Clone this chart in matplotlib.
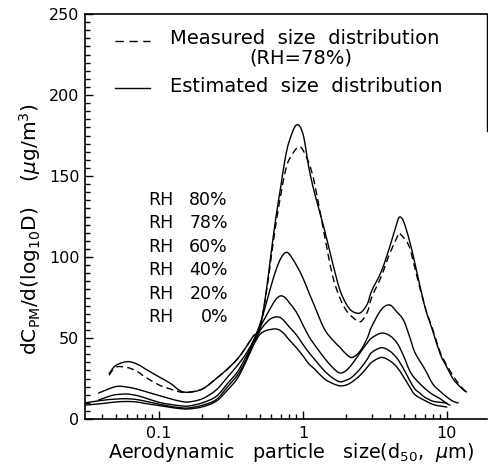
import numpy as np
import matplotlib
matplotlib.use("Agg")
import matplotlib.pyplot as plt
from matplotlib.ticker import FixedLocator, NullFormatter, MultipleLocator
from matplotlib.path import Path
from matplotlib.patches import PathPatch

# ---------------- data ----------------
x_rh80 = [0.045, 0.05, 0.06, 0.07, 0.08, 0.1, 0.12, 0.14, 0.16, 0.2, 0.25, 0.3, 0.35, 0.4, 0.45,
          0.5, 0.55, 0.6, 0.65, 0.7, 0.75, 0.8, 0.9, 1.0, 1.1, 1.2, 1.4, 1.6, 1.8, 2.0, 2.2, 2.5,
          2.8, 3.0, 3.5, 4.0, 4.5, 4.7, 5.0, 5.5, 6, 7, 8, 9, 10, 11, 12, 13, 13.7]
y_rh80 = [28, 33, 35.4, 34, 31, 26, 22, 17.5, 16.5, 18.5, 25, 31, 37, 44, 51,
          55, 76, 102, 125, 143, 160, 171, 181.5, 176, 155, 140, 118, 97, 80, 71, 66.5, 65.5,
          71, 79, 91, 106, 121, 124.7, 122, 110, 96, 70, 54, 40, 32, 25, 21, 18, 16.7]

x_meas = [0.045, 0.05, 0.06, 0.07, 0.08, 0.1, 0.12, 0.14, 0.16, 0.2, 0.25, 0.3, 0.35, 0.4, 0.45,
          0.5, 0.55, 0.6, 0.65, 0.7, 0.75, 0.8, 0.9, 0.95, 1.0, 1.1, 1.2, 1.4, 1.6, 1.8, 2.0, 2.2,
          2.5, 2.8, 3.0, 3.5, 4.0, 4.5, 4.6, 5.0, 5.5, 6, 7, 8, 9, 10, 11, 12, 13, 13.8]
y_meas = [27, 32, 31.8, 29.5, 26, 21, 18.5, 16.7, 16.5, 18.5, 25, 31, 37, 44, 51,
          56, 75, 99, 121, 138, 152, 160, 167, 168, 166, 158, 146, 115, 89, 75, 67, 63,
          60, 66, 75, 88, 102, 112, 114.8, 112, 106, 93, 70, 55, 41, 33, 27, 22, 18.5, 16]

x_rh60 = [0.038, 0.05, 0.06, 0.07, 0.08, 0.1, 0.12, 0.14, 0.16, 0.2, 0.25, 0.3, 0.35, 0.4, 0.45,
          0.5, 0.55, 0.6, 0.65, 0.7, 0.75, 0.8, 0.9, 1.0, 1.1, 1.2, 1.4, 1.6, 1.8, 2.0, 2.2, 2.5,
          2.8, 3.0, 3.5, 4.0, 4.5, 5.0, 5.5, 6, 7, 8, 9, 10, 11, 12]
y_rh60 = [16, 20, 19.7, 18.5, 17, 14.5, 12.5, 11, 10.5, 12.5, 18, 26, 33, 40, 48,
          58, 70, 82, 92, 99, 102.5, 102, 95, 87, 78, 70, 56, 49, 44.4, 40, 38, 42,
          50, 57, 67.5, 70.4, 66, 61, 51, 41, 31, 21.5, 17, 13.6, 11, 9.9]

x_rh40 = [0.038, 0.045, 0.05, 0.06, 0.07, 0.08, 0.1, 0.12, 0.14, 0.16, 0.2, 0.25, 0.3, 0.35, 0.4,
          0.45, 0.5, 0.55, 0.6, 0.65, 0.7, 0.75, 0.8, 0.9, 1.0, 1.1, 1.2, 1.4, 1.6, 1.8, 2.0, 2.2,
          2.5, 2.8, 3.0, 3.5, 4.0, 4.5, 5.0, 5.5, 6, 7, 8, 9, 10, 10.5]
y_rh40 = [11.7, 14, 15, 15.4, 14.5, 13, 10.3, 9, 8.2, 8, 10, 14, 22, 29, 38,
          47, 56, 63, 69, 74, 76, 75, 72, 66, 58, 51, 46, 38, 32, 28.4, 30, 34,
          41, 47, 50, 53, 51.5, 47, 39, 30, 25, 19, 15, 12.5, 9.5, 8.6]

x_rh20 = [0.031, 0.04, 0.05, 0.06, 0.07, 0.08, 0.1, 0.12, 0.14, 0.16, 0.2, 0.25, 0.3, 0.35, 0.4,
          0.45, 0.5, 0.55, 0.6, 0.65, 0.7, 0.75, 0.8, 0.9, 1.0, 1.1, 1.2, 1.4, 1.6, 1.8, 2.0, 2.2,
          2.5, 2.8, 3.0, 3.5, 4.0, 4.5, 5.0, 5.5, 6, 6.5, 7, 8, 9, 10]
y_rh20 = [10, 11.5, 12.3, 12.5, 12, 11, 9.2, 7.8, 7, 6.8, 8.5, 12, 20, 27, 36,
          46, 54, 59, 62, 63, 62.5, 60, 57, 52, 46, 41, 37, 30, 25.5, 23, 24, 26,
          31, 37, 41, 44, 42, 37.5, 31, 24, 18.5, 16, 13.5, 11, 10.3, 9.9]

x_rh0 = [0.031, 0.04, 0.05, 0.06, 0.07, 0.08, 0.1, 0.12, 0.14, 0.16, 0.2, 0.25, 0.3, 0.35, 0.4,
         0.45, 0.5, 0.55, 0.6, 0.65, 0.7, 0.75, 0.8, 0.9, 1.0, 1.1, 1.2, 1.4, 1.6, 1.8, 2.0, 2.2,
         2.5, 2.8, 3.0, 3.5, 4.0, 4.5, 5.0, 5.5, 6, 7, 8, 9, 10]
y_rh0 = [8.6, 9.5, 10.5, 10.8, 10.5, 9.6, 8.3, 7.2, 6.4, 6.2, 7.5, 11, 18, 25, 35,
         45, 52, 54.5, 55.3, 55.6, 54.5, 52, 49, 44, 39, 34, 31, 25, 22, 20.5, 21, 23,
         27, 32, 35, 38, 36, 32, 26, 20, 15, 11.5, 9, 8, 7.4]

rh_labels = ["80%", "78%", "60%", "40%", "20%", "0%"]
x_major = [0.1, 1, 10]
x_major_labels = ["0.1", "1", "10"]
y_major = [0, 50, 100, 150, 200, 250]

# ---------------- figure ----------------
W, H = 488, 470
plt.rcParams['font.family'] = ['DejaVu Sans']
fig = plt.figure(figsize=(W / 100, H / 100), dpi=100)
ax = fig.add_axes([85 / W, 1 - 419 / H, (487 - 85) / W, (419 - 14) / H])

ax.set_xscale('log')
ax.set_xlim(0.0306, 19.0)
ax.set_ylim(0, 250)


def smooth_path(xs, ys):
    """Catmull-Rom curve through the read points (computed in log-x space)."""
    P = np.column_stack([np.log10(xs), np.asarray(ys, float)])
    n = len(P)
    verts = [P[0]]
    codes = [Path.MOVETO]
    for i in range(n - 1):
        p0 = P[i - 1] if i > 0 else P[i]
        p1 = P[i]
        p2 = P[i + 1]
        p3 = P[i + 2] if i + 2 < n else P[i + 1]
        verts += [p1 + (p2 - p0) / 6.0, p2 - (p3 - p1) / 6.0, p2]
        codes += [Path.CURVE4] * 3
    verts = np.array(verts)
    verts[:, 0] = 10 ** verts[:, 0]
    return Path(verts, codes)


lw = 1.0
for xs, ys in [(x_rh80, y_rh80), (x_rh60, y_rh60), (x_rh40, y_rh40),
               (x_rh20, y_rh20), (x_rh0, y_rh0)]:
    ax.add_patch(PathPatch(smooth_path(xs, ys), fill=False, edgecolor='black', lw=lw,
                           capstyle='round', joinstyle='round'))
ax.add_patch(PathPatch(smooth_path(x_meas, y_meas), fill=False, edgecolor='black', lw=lw,
                       linestyle=(0, (5, 3))))

# ticks
ax.xaxis.set_major_locator(FixedLocator(x_major))
ax.set_xticklabels(x_major_labels)
minors = [m * 10.0 ** e for e in (-2, -1, 0) for m in range(2, 10)]
ax.xaxis.set_minor_locator(FixedLocator(minors))
ax.xaxis.set_minor_formatter(NullFormatter())
ax.yaxis.set_major_locator(FixedLocator(y_major))
ax.yaxis.set_minor_locator(MultipleLocator(5))
ax.tick_params(which='both', direction='in', top=False, right=False, width=1.0,
               colors='black', labelsize=11.5)
ax.tick_params(which='major', length=6)
ax.tick_params(which='minor', length=3.5)
ax.tick_params(axis='x', pad=5)
ax.tick_params(axis='y', pad=4)

for s in ['left', 'bottom', 'top']:
    ax.spines[s].set_linewidth(1.2)
ax.spines['right'].set_linewidth(1.0)
ax.spines['right'].set_bounds(178, 250)

# axis labels
fig.text(291 / W, 1 - 452 / H, r'Aerodynamic   particle   size(d$_{50}$,  $\mu$m)',
         ha='center', va='center', fontsize=13.8)
fig.text(30 / W, 1 - 229 / H, r'dC$_{\rm PM}$/d(log$_{10}$D)    ($\mu$g/m$^{3}$)',
         ha='center', va='center', rotation=90, fontsize=14.5)


def ax_x(px):
    return (px - 85) / (487 - 85)


def ax_y(py):
    return (419 - py) / (419 - 14)


# legend drawn by hand
ax.plot([ax_x(115), ax_x(150)], [ax_y(41), ax_y(41)], transform=ax.transAxes,
        color='black', lw=lw, linestyle=(0, (6, 4)), clip_on=False)
ax.plot([ax_x(115), ax_x(150)], [ax_y(88), ax_y(88)], transform=ax.transAxes,
        color='black', lw=lw, clip_on=False)
ax.text(ax_x(170), ax_y(39), 'Measured  size  distribution', transform=ax.transAxes,
        ha='left', va='center', fontsize=14)
ax.text(ax_x(301), ax_y(58), '(RH=78%)', transform=ax.transAxes,
        ha='center', va='center', fontsize=14)
ax.text(ax_x(170), ax_y(87), 'Estimated  size  distribution', transform=ax.transAxes,
        ha='left', va='center', fontsize=14)

for i, lab in enumerate(rh_labels):
    py = 200 + i * 23.4
    ax.text(ax_x(148), ax_y(py), 'RH', transform=ax.transAxes,
            ha='left', va='center', fontsize=12.5)
    ax.text(ax_x(228), ax_y(py), lab, transform=ax.transAxes,
            ha='right', va='center', fontsize=12.5)

fig.savefig('out.png', dpi=100)
